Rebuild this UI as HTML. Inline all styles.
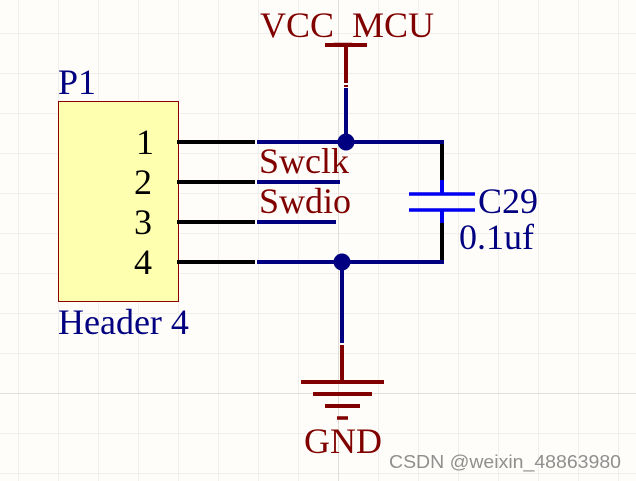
<!DOCTYPE html>
<html><head><meta charset="utf-8">
<style>
html,body{margin:0;padding:0;background:#fffdf9}
svg{display:block}
text{font-family:"Liberation Serif",serif;font-size:36px}
</style></head>
<body>
<svg width="636" height="481" viewBox="0 0 636 481" xmlns="http://www.w3.org/2000/svg">
<rect width="636" height="481" fill="#fffdf9"/>
<g stroke="#f0efeb" stroke-width="1" shape-rendering="crispEdges">
<path d="M18.5 0V481M58.5 0V481M98.5 0V481M138.5 0V481M178.5 0V481M218.5 0V481M258.5 0V481M298.5 0V481M378.5 0V481M418.5 0V481M458.5 0V481M498.5 0V481M538.5 0V481M578.5 0V481M618.5 0V481"/>
<path d="M0 33.5H636M0 73.5H636M0 113.5H636M0 153.5H636M0 193.5H636M0 233.5H636M0 273.5H636M0 313.5H636M0 353.5H636M0 433.5H636M0 473.5H636"/>
</g>
<g stroke="#dfdedb" stroke-width="1" shape-rendering="crispEdges">
<path d="M338.5 0V481M0 393.5H636"/>
</g>

<rect x="58.5" y="101.5" width="120" height="200" fill="#ffffb0" stroke="#8a0000" stroke-width="1"/>

<!-- text -->
<g fill="#800000">
<text x="260" y="37">VCC</text>
<text x="334" y="40">_</text>
<text x="352" y="37">MCU</text>
<text x="259" y="173">Swclk</text>
<text x="259" y="213">Swdio</text>
<text x="304" y="453">GND</text>
</g>
<g fill="#000080">
<text x="58" y="94">P1</text>
<text x="58" y="334">Header 4</text>
<text x="478" y="213">C29</text>
<text x="459" y="249">0.1uf</text>
</g>
<g fill="#000">
<text x="136" y="154">1</text>
<text x="134" y="194">2</text>
<text x="134" y="234">3</text>
<text x="134" y="274">4</text>
</g>

<!-- VCC -->
<path d="M325 45H367" stroke="#800000" stroke-width="4"/>
<path d="M346 45V83" stroke="#800000" stroke-width="4"/>
<path d="M346 88V142" stroke="#000080" stroke-width="4"/>
<rect x="344" y="85" width="4" height="2" fill="#800000"/>

<!-- pins -->
<g stroke="#000" stroke-width="4">
<path d="M177 142H255M177 182H255M177 222H255M177 262H255"/>
<path d="M442 144V183M442 223V260"/>
</g>
<!-- wires -->
<g stroke="#000080" stroke-width="4" fill="none">
<path d="M257 142H444"/>
<path d="M257 182H340"/>
<path d="M257 222H336"/>
<path d="M257 262H444"/>
<path d="M342 262V343"/>
</g>
<circle cx="346" cy="142" r="8.5" fill="#000080"/>
<circle cx="342" cy="262" r="8.5" fill="#000080"/>

<!-- capacitor -->
<g stroke="#0000f0" stroke-width="4">
<path d="M442 180V194M442 210V223"/>
</g>
<g stroke="#0000f0" stroke-width="3.5">
<path d="M409 194H475M409 210H475"/>
</g>

<!-- GND -->
<g stroke="#800000" fill="none">
<path d="M342 345V382" stroke-width="4"/>
<path d="M301 382H384" stroke-width="4"/>
<path d="M313 394H372" stroke-width="4"/>
<path d="M325 406H360" stroke-width="4"/>
<path d="M337 418H348" stroke-width="3.5"/>
</g>

<text x="389" y="468" fill="#8f8f8f" style="font-family:'Liberation Sans',sans-serif;font-size:18px" textLength="232" lengthAdjust="spacingAndGlyphs">CSDN @weixin_48863980</text>
</svg>
</body></html>
